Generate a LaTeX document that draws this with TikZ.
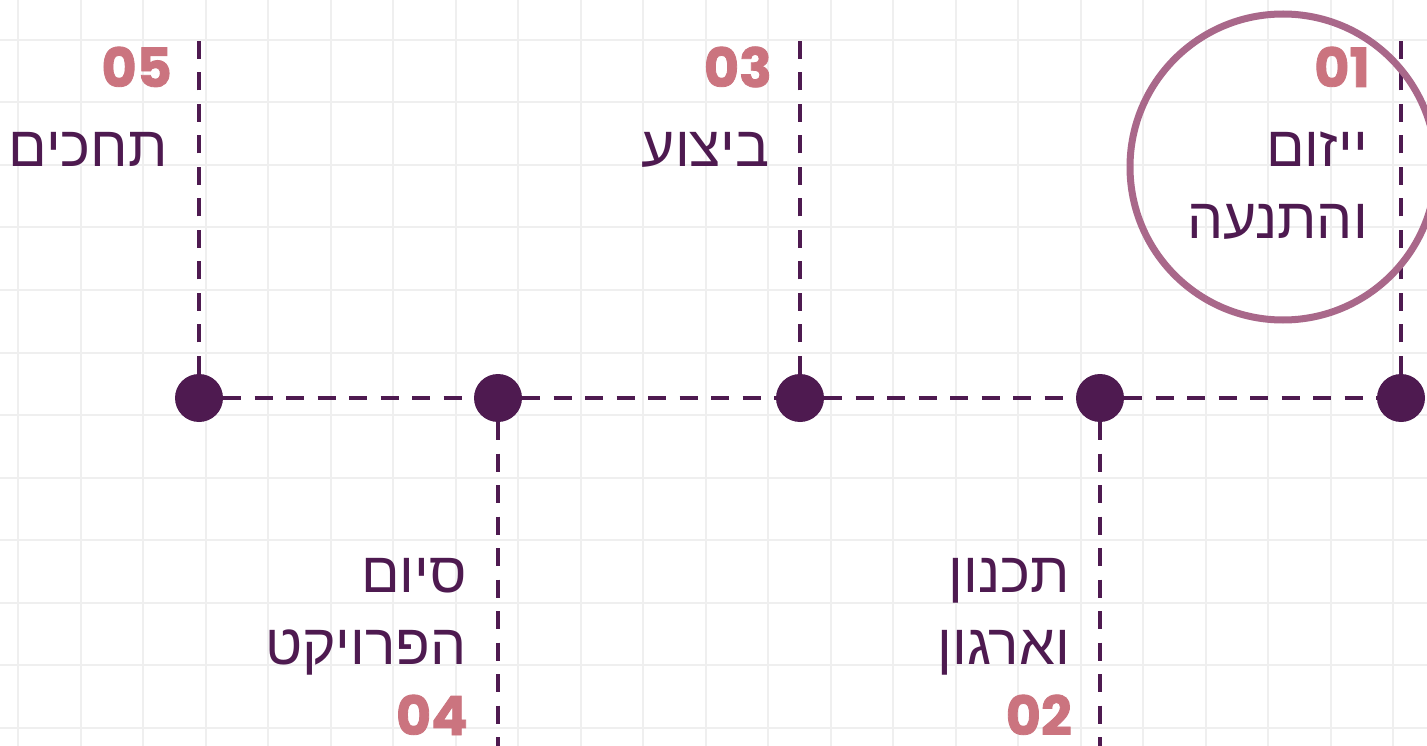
\documentclass[tikz,border=0pt]{standalone}
\usepackage{fontspec}
\setmainfont{Liberation Sans}
\newfontfamily\hebfont[Script=Hebrew]{Liberation Sans}
\newfontfamily\numfont{Poppins}[FakeBold=1.5]
\TeXXeTstate=1
\definecolor{plum}{HTML}{4E1A50}
\definecolor{rose}{HTML}{CB747F}
\definecolor{mauve}{HTML}{A9688A}
\definecolor{gridline}{HTML}{EFEFEF}
\newcommand{\rl}[1]{\beginR#1\endR}

\begin{document}
\begin{tikzpicture}[x=1pt,y=-1pt,
    dot/.style={circle,fill=plum,inner sep=0pt,minimum size=48pt},
    link/.style={draw=plum,line width=4.5pt,dash pattern=on 18pt off 13.5pt},
    stage/.style={anchor=base east,inner sep=0pt,text=plum,align=right,
      font=\hebfont\fontsize{57}{72}\selectfont},
    num/.style={anchor=base east,inner sep=0pt,text depth=0pt,text=rose,
      font=\numfont\bfseries\fontsize{54}{54}\selectfont}]
    \useasboundingbox (0,0) rectangle (1427,746);
    \fill[white] (0,0) rectangle (1427,746);
    % background grid
    \foreach \i in {0,...,22}
      \draw[gridline,line width=2pt] (18+62.5*\i,0) -- (18+62.5*\i,746);
    \foreach \j in {-1,...,11}
      \draw[gridline,line width=2pt] (0,40+62.5*\j) -- (1427,40+62.5*\j);
    % timeline
    \node[dot] (d5) at (199,398) {};
    \node[dot] (d4) at (498,398) {};
    \node[dot] (d3) at (800,398) {};
    \node[dot] (d2) at (1100,398) {};
    \node[dot] (d1) at (1401,398) {};
    \coordinate (t5) at (199,40);
    \coordinate (t3) at (800,40);
    \coordinate (t1) at (1401,40);
    \coordinate (b4) at (498,746);
    \coordinate (b2) at (1100,746);
    \draw[link] (d5) -- (d4);
    \draw[link] (d4) -- (d3);
    \draw[link] (d3) -- (d2);
    \draw[link] (d2) -- (d1);
    \draw[link] (d5) -- (t5);
    \draw[link] (d3) -- (t3);
    \draw[link] (d1) -- (t1);
    \draw[link] (d4) -- (b4);
    \draw[link] (d2) -- (b2);
    % stages (base of a two-line node is its last line)
    \node[num] (n5) at (172,87) {05};
    \node[stage] (s5) at (168,167) {\rl{תחכים}};
    \node[num] (n3) at (772,87) {03};
    \node[stage] (s3) at (770,167) {\rl{ביצוע}};
    \node[num] (n1) at (1370,87) {01};
    \node[stage] (s1) at (1368,239) {\rl{ייזום}\\\rl{והתנעה}};
    \draw[mauve,line width=7pt] (1283,167) circle[radius=153];
    \node[stage] (s4) at (467,664) {\rl{סיום}\\\rl{הפרויקט}};
    \node[num] (n4) at (468,735) {04};
    \node[stage] (s2) at (1070,664) {\rl{תכנון}\\\rl{וארגון}};
    \node[num] (n2) at (1072,735) {02};
  \end{tikzpicture}
\end{document}
